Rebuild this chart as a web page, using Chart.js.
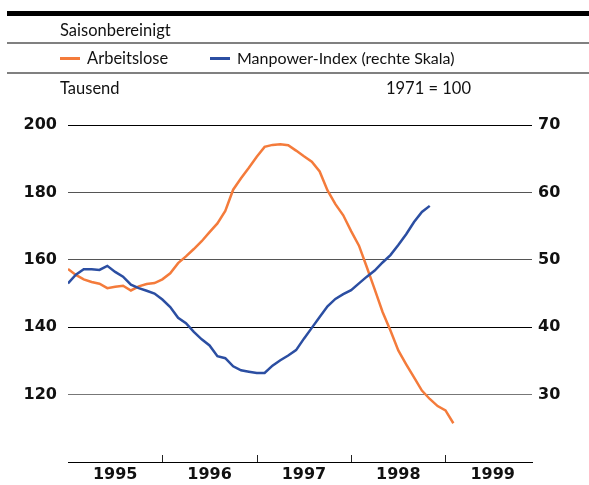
<!DOCTYPE html>
<html>
<head>
<meta charset="utf-8">
<script src="https://cdn.jsdelivr.net/npm/chart.js@4.4.0/dist/chart.umd.min.js"></script>
<style>
  body { margin: 0; background: #fff; }
  #wrap { position: relative; width: 589px; height: 485px; overflow: hidden; font-family: Lato, sans-serif; }
  canvas { position: absolute; left: 0; top: 0; }
  .rule { position: absolute; left: 7px; right: 0; }
  .txt { position: absolute; font-size: 16.5px; line-height: 20px; color: #111; white-space: nowrap; }
  .key { position: absolute; width: 20px; height: 2.5px; }
</style>
</head>
<body>
<div id="wrap">
  <canvas id="chart" width="589" height="485"></canvas>
  <div class="rule" style="top:11px;height:5px;background:#000"></div>
  <div class="txt" style="left:60px;top:20px">Saisonbereinigt</div>
  <div class="rule" style="top:42px;height:2px;background:#808080"></div>
  <div class="key" style="left:60px;top:57px;background:#f47b3b"></div>
  <div class="txt" style="left:87px;top:48px">Arbeitslose</div>
  <div class="key" style="left:210px;top:57px;background:#2b4ea2"></div>
  <div class="txt" style="left:237px;top:48px;font-size:16px">Manpower-Index (rechte Skala)</div>
  <div class="rule" style="top:72px;height:2px;background:#808080"></div>
  <div class="txt" style="left:60px;top:78px">Tausend</div>
  <div class="txt" style="right:118px;top:78px">1971 = 100</div>
</div>
<script>
// Monthly values from January 1995
const startYear = 1995;
const arbeitslose = [157.3, 155.5, 154.2, 153.4, 152.9, 151.6, 152.0, 152.3, 150.9, 152.1, 152.8, 153.1,
  154.2, 156.0, 159.0, 161.0, 163.2, 165.5, 168.2, 170.8, 174.5, 180.8, 184.2, 187.3,
  190.6, 193.5, 194.1, 194.3, 194.0, 192.4, 190.7, 189.1, 186.2, 180.6, 176.5, 173.2,
  168.5, 164.2, 157.8, 151.2, 144.5, 139.0, 133.1, 129.0, 125.1, 121.2, 118.7, 116.6,
  115.3, 111.5];
const manpower = [46.5, 47.8, 48.6, 48.6, 48.5, 49.1, 48.2, 47.5, 46.3, 45.8, 45.4, 45.0,
  44.1, 43.0, 41.4, 40.6, 39.3, 38.2, 37.3, 35.7, 35.4, 34.2, 33.6, 33.4,
  33.2, 33.2, 34.3, 35.1, 35.8, 36.6, 38.3, 39.9, 41.5, 43.1, 44.2, 44.9,
  45.5, 46.5, 47.5, 48.4, 49.6, 50.7, 52.2, 53.8, 55.6, 57.1, 58.0];
const yearLabels = [1995, 1996, 1997, 1998, 1999];
const leftTicks = [120, 140, 160, 180, 200];
const rightTicks = [30, 40, 50, 60, 70];

const toPoints = arr => arr.map((v, i) => ({ x: startYear + i / 12, y: v }));
const gridColor = { 200: '#000', 180: '#555', 160: '#555', 140: '#000', 120: '#777' };

const yearTicks = {
  id: 'yearTicks',
  afterDraw(chart) {
    const xs = chart.scales.x, ctx = chart.ctx, bottom = chart.chartArea.bottom;
    ctx.save();
    ctx.strokeStyle = '#222';
    ctx.lineWidth = 1;
    yearLabels.slice(1).forEach(y => {
      const px = Math.round(xs.getPixelForValue(y)) + 0.5;
      ctx.beginPath();
      ctx.moveTo(px, bottom - 7);
      ctx.lineTo(px, bottom);
      ctx.stroke();
    });
    ctx.restore();
  }
};

const tickFont = { family: 'DejaVu Sans', size: 16, weight: 'bold' };

new Chart(document.getElementById('chart'), {
  type: 'line',
  data: {
    datasets: [
      { label: 'Manpower-Index', data: toPoints(manpower), yAxisID: 'y2', borderColor: '#2b4ea2', borderWidth: 2.5, pointRadius: 0, tension: 0 },
      { label: 'Arbeitslose', data: toPoints(arbeitslose), yAxisID: 'y', borderColor: '#f47b3b', borderWidth: 2.5, pointRadius: 0, tension: 0 }
    ]
  },
  options: {
    responsive: false,
    animation: false,
    layout: { padding: { top: 125, left: 0, right: 0, bottom: 0 } },
    plugins: { legend: { display: false }, tooltip: { enabled: false } },
    scales: {
      x: {
        type: 'linear',
        min: startYear,
        max: startYear + 59 / 12,
        grid: { display: false, drawTicks: false },
        border: { display: true, color: '#000', width: 1 },
        afterBuildTicks: s => { s.ticks = yearLabels.map(y => ({ value: y + 0.5 })); },
        afterFit: s => { s.height = 23; },
        ticks: { color: '#111', font: tickFont, padding: 3, maxRotation: 0, autoSkip: false,
          callback: v => String(Math.floor(v)) }
      },
      y: {
        position: 'left',
        min: 100, max: 200,
        afterBuildTicks: s => { s.ticks = leftTicks.map(v => ({ value: v })); },
        afterFit: s => { s.width = 68; },
        grid: { drawTicks: false, color: c => gridColor[c.tick.value] || 'transparent', lineWidth: 1 },
        border: { display: false },
        ticks: { color: '#111', font: tickFont, padding: 11 }
      },
      y2: {
        position: 'right',
        min: 20, max: 70,
        afterBuildTicks: s => { s.ticks = rightTicks.map(v => ({ value: v })); },
        afterFit: s => { s.width = 57; },
        grid: { drawOnChartArea: false, drawTicks: false },
        border: { display: false },
        ticks: { color: '#111', font: tickFont, padding: 6 }
      }
    }
  },
  plugins: [yearTicks]
});
</script>
</body>
</html>
